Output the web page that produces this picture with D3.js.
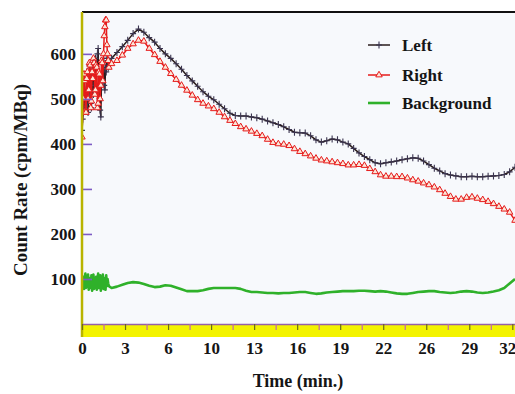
<!DOCTYPE html>
<html>
<head>
<meta charset="utf-8">
<script src="https://cdn.jsdelivr.net/npm/d3@7"></script>
<style>
  html, body { margin: 0; padding: 0; background: #fff; }
  svg { display: block; font-family: "Liberation Serif", "Times New Roman", serif; font-weight: bold; }
</style>
</head>
<body>
<div id="chart"></div>
<script>
// Sampling grid (min): 0.05 min while the signal is noisy, then 0.4 min
const time = d3.range(0, 2.025, 0.05).concat(d3.range(2.2, 32.25, 0.4));

// Count rate (cpm/MBq)
const left = [
  430, 455, 470, 510, 520, 480, 490, 560, 545, 470, 500, 575, 560, 490, 480, 565, 575, 510, 530, 585,
  590, 520, 560, 600, 612, 530, 500, 475, 460, 540, 540, 580, 590, 530, 520, 570, 560, 590, 585, 570, 575,
  590, 603, 616, 630, 645, 655, 648, 636, 626, 612,
  600, 590, 578, 566, 552, 540, 528, 516, 506, 498,
  488, 478, 468, 463, 462, 462, 460, 458, 455, 451,
  447, 443, 438, 432, 426, 425, 424, 418, 409, 404,
  407, 411, 409, 404, 400, 390, 380, 372, 365, 358,
  356, 358, 360, 362, 365, 367, 369, 368, 362, 354,
  346, 340, 334, 331, 329, 327, 327, 328, 327, 327,
  328, 329, 330, 332, 338, 348
];

const right = [
  415, 470, 500, 555, 540, 470, 470, 545, 560, 500, 520, 580, 575, 480, 495, 560, 545, 590, 580, 510,
  520, 575, 570, 480, 490, 560, 555, 500, 530, 585, 580, 540, 600, 640, 660, 675, 675, 620, 600, 585, 570,
  578, 585, 597, 612, 622, 630, 628, 612, 598, 583,
  570, 556, 543, 530, 519, 508, 498, 490, 484, 478,
  470, 460, 452, 445, 438, 433, 428, 423, 418, 410,
  403, 400, 399, 396, 389, 383, 378, 373, 368, 364,
  362, 360, 358, 356, 353, 353, 354, 352, 345, 338,
  331, 328, 328, 327, 327, 324, 320, 317, 313, 309,
  304, 298, 290, 283, 277, 277, 281, 282, 279, 276,
  272, 267, 261, 255, 248, 230
];

const background = [
  95, 82, 105, 78, 100, 112, 80, 96, 88, 110, 76, 102, 95, 80, 108, 74, 100, 110, 78, 96,
  84, 105, 76, 98, 112, 80, 92, 108, 74, 100, 88, 110, 78, 102, 95, 76, 108, 84, 100, 90, 84,
  80, 83, 87, 91, 93, 92, 89, 85, 82, 83,
  86, 85, 81, 77, 73, 73, 73, 75, 78, 80,
  80, 80, 80, 80, 78, 74, 71, 71, 70, 69,
  69, 68, 69, 69, 70, 71, 71, 69, 67, 68,
  70, 71, 72, 73, 73, 73, 74, 74, 73, 72,
  73, 72, 70, 68, 67, 67, 69, 71, 72, 73,
  73, 71, 70, 69, 70, 72, 73, 72, 70, 69,
  70, 72, 75, 80, 90, 100
];

const yTicks = [100, 200, 300, 400, 500, 600];
const xTicks = d3.range(0, 32.05, 1.6);
const xTickLabels = ["0", "3", "6", "10", "13", "16", "19", "22", "26", "29", "32"];

const width = 515;
const height = 394;
const plot = { left: 82, top: 12, right: 515, bottom: 324 };

const svg = d3.select("#chart")
  .append("svg")
  .attr("width", width)
  .attr("height", height);

const x = d3.scaleLinear().domain([0, 32.2]).range([plot.left, plot.right]);
const y = d3.scaleLinear().domain([0, 693]).range([plot.bottom, plot.top]);

// Plot panel and the yellow strip under the time axis
svg.append("rect")
  .attr("x", plot.left)
  .attr("y", plot.top)
  .attr("width", plot.right - plot.left)
  .attr("height", plot.bottom - plot.top)
  .attr("fill", "#f7f9fc");

svg.append("rect")
  .attr("x", plot.left)
  .attr("y", plot.bottom)
  .attr("width", plot.right - plot.left)
  .attr("height", 13)
  .attr("fill", "#f3f300");

svg.append("clipPath")
  .attr("id", "clip")
  .append("rect")
  .attr("x", plot.left)
  .attr("y", plot.top)
  .attr("width", plot.right - plot.left)
  .attr("height", plot.bottom - plot.top);

const series = [
  { name: "Left", values: left, color: "#2a1c1c", width: 1.5, marker: "plus" },
  { name: "Right", values: right, color: "#e61b1b", width: 1.5, marker: "triangle" },
  { name: "Background", values: background, color: "#2fb12a", width: 2.6, marker: null }
];

const plusPath = "M-3,0H3M0,-3.5V3.5";
const triangle = d3.symbol(d3.symbolTriangle, 18);

const g = svg.append("g").attr("clip-path", "url(#clip)");

function drawMarkers(sel, s) {
  if (s.marker === "plus") {
    sel.append("path")
      .attr("d", plusPath)
      .attr("fill", "none")
      .attr("stroke", "#3b3550")
      .attr("stroke-width", 1.1);
  } else if (s.marker === "triangle") {
    sel.append("path")
      .attr("d", triangle)
      .attr("fill", "#fbe6d8")
      .attr("stroke", s.color)
      .attr("stroke-width", 1);
  }
}

series.forEach((s) => {
  const pts = time.map((t, i) => ({ t, v: s.values[i] }));

  const line = d3.line()
    .x((d) => x(d.t))
    .y((d) => y(d.v));

  g.append("path")
    .datum(pts)
    .attr("fill", "none")
    .attr("stroke", s.color)
    .attr("stroke-width", s.width)
    .attr("stroke-linejoin", "round")
    .attr("d", line);

  if (s.marker) {
    g.selectAll(null)
      .data(pts)
      .enter()
      .append("g")
      .attr("transform", (d) => `translate(${x(d.t)},${y(d.v)})`)
      .each(function () { drawMarkers(d3.select(this), s); });
  }
});

// Frame: black top edge, olive left edge
svg.append("line")
  .attr("x1", plot.left).attr("x2", plot.right)
  .attr("y1", plot.top).attr("y2", plot.top)
  .attr("stroke", "#111")
  .attr("stroke-width", 2);

// Y axis: purple ticks pointing into the plot
const yAxis = d3.axisLeft(y)
  .tickValues(yTicks)
  .tickSizeInner(-10)
  .tickSizeOuter(0)
  .tickPadding(6);

const yg = svg.append("g")
  .attr("transform", `translate(${plot.left},0)`)
  .call(yAxis);
yg.select(".domain").remove();
yg.selectAll(".tick line").attr("stroke", "#7d5bc4").attr("stroke-width", 1.6);
yg.selectAll(".tick text")
  .attr("fill", "#151515")
  .style("font-family", "'Liberation Serif', serif")
  .style("font-weight", "bold")
  .style("font-size", "17px");

svg.append("line")
  .attr("x1", plot.left).attr("x2", plot.left)
  .attr("y1", plot.top).attr("y2", plot.bottom + 13)
  .attr("stroke", "#b9b400")
  .attr("stroke-width", 2.5);

// X axis: ticks in the yellow strip, labels on every other tick
const xAxis = d3.axisBottom(x)
  .tickValues(xTicks)
  .tickSizeInner(6)
  .tickSizeOuter(0)
  .tickPadding(12)
  .tickFormat((d, i) => (i % 2 === 0 ? xTickLabels[i / 2] : ""));

const xg = svg.append("g")
  .attr("transform", `translate(0,${plot.bottom})`)
  .call(xAxis);
xg.select(".domain")
  .attr("stroke", "#9560a8")
  .attr("stroke-width", 1.5);
xg.selectAll(".tick line")
  .attr("stroke", (d, i) => (i % 2 === 0 ? "#6b6a1a" : "#c06aa8"))
  .attr("stroke-width", 1.2);
xg.selectAll(".tick text")
  .attr("fill", "#151515")
  .style("font-family", "'Liberation Serif', serif")
  .style("font-weight", "bold")
  .style("font-size", "17px");
// last label sits against the right edge
xg.selectAll(".tick text")
  .filter((d, i, nodes) => i === nodes.length - 1)
  .attr("text-anchor", "end")
  .attr("dx", "0.2em");

// Axis titles
svg.append("text")
  .attr("x", 298)
  .attr("y", 387)
  .attr("text-anchor", "middle")
  .style("font-size", "18px")
  .attr("fill", "#151515")
  .text("Time (min.)");

svg.append("text")
  .attr("transform", "translate(27,180) rotate(-90)")
  .attr("text-anchor", "middle")
  .style("font-size", "19px")
  .attr("fill", "#151515")
  .text("Count Rate (cpm/MBq)");

// Legend
const legend = svg.append("g").attr("transform", "translate(368,45)");

const legendItems = legend.selectAll(".legend-item")
  .data(series)
  .enter()
  .append("g")
  .attr("class", "legend-item")
  .attr("transform", (d, i) => `translate(0,${[0, 30, 58][i]})`);

legendItems.append("line")
  .attr("x1", 0).attr("x2", 22)
  .attr("y1", 0).attr("y2", 0)
  .attr("stroke", (d) => d.color)
  .attr("stroke-width", (d) => d.width);

legendItems.filter((d) => d.marker)
  .append("g")
  .attr("transform", "translate(11,0)")
  .each(function (d) { drawMarkers(d3.select(this), d); });

legendItems.append("text")
  .attr("x", 34)
  .attr("dy", "0.35em")
  .style("font-size", "17px")
  .attr("fill", "#151515")
  .text((d) => d.name);
</script>
</body>
</html>
